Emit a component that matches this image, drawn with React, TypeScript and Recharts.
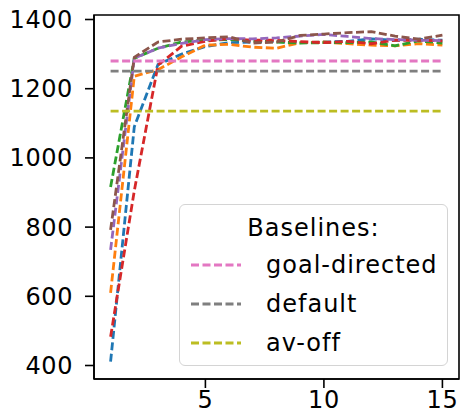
import { LineChart, Line, XAxis, YAxis, ReferenceArea } from 'recharts';

// training steps on the x axis
const steps = [1, 2, 3, 4, 5, 6, 7, 8, 9, 10, 11, 12, 13, 14, 15];

// one run per colour
const runBlue = [411, 1090, 1270, 1300, 1322, 1333, 1335, 1336, 1333, 1335, 1337, 1344, 1340, 1343, 1340];
const runOrange = [610, 1236, 1255, 1292, 1326, 1328, 1320, 1317, 1333, 1335, 1330, 1326, 1324, 1330, 1326];
const runGreen = [916, 1288, 1317, 1335, 1340, 1342, 1338, 1335, 1332, 1333, 1333, 1335, 1324, 1338, 1332];
const runRed = [483, 905, 1268, 1323, 1337, 1345, 1340, 1340, 1336, 1333, 1337, 1330, 1340, 1340, 1338];
const runPurple = [734, 1288, 1317, 1331, 1342, 1345, 1344, 1347, 1352, 1357, 1351, 1345, 1342, 1340, 1339];
const runBrown = [792, 1291, 1335, 1343, 1347, 1350, 1332, 1335, 1354, 1358, 1362, 1365, 1352, 1343, 1355];

const runs = [runBlue, runOrange, runGreen, runRed, runPurple, runBrown];
const runColors = ['#1f77b4', '#ff7f0e', '#2ca02c', '#d62728', '#9467bd', '#8c564b'];

const baselineNames = ['goal-directed', 'default', 'av-off'];
const baselineValues = [1280, 1251, 1135];
const baselineColors = ['#e377c2', '#7f7f7f', '#bcbd22'];

const xTicks = [5, 10, 15];
const yTicks = [400, 600, 800, 1000, 1200, 1400];

const data = steps.map((step, i) => {
  const row: Record<string, number> = { step };
  runs.forEach((r, k) => (row[`run${k}`] = r[i]));
  baselineValues.forEach((v, k) => (row[`base${k}`] = v));
  return row;
});

const FONT = '"DejaVu Sans", sans-serif';
const DASH = '8 3.5';
const LW = 2.8;

function BaselineLegend() {
  return (
    <div
      style={{
        position: 'absolute',
        left: 179,
        top: 204,
        width: 269,
        height: 162,
        boxSizing: 'border-box',
        border: '1.5px solid #d4d4d4',
        borderRadius: 6,
        background: 'rgba(255,255,255,0.8)',
        fontFamily: FONT,
        fontSize: 24,
        letterSpacing: 1,
        color: '#000',
      }}
    >
      <div style={{ position: 'absolute', top: 8, left: 0, width: '100%', textAlign: 'center', lineHeight: '30px' }}>
        Baselines:
      </div>
      {baselineNames.map((name, i) => (
        <div key={name} style={{ position: 'absolute', top: 45 + i * 39, left: 10, height: 30, display: 'flex', alignItems: 'center' }}>
          <svg width={52} height={10}>
            <line x1={1} y1={5} x2={51} y2={5} stroke={baselineColors[i]} strokeWidth={LW} strokeDasharray={DASH} />
          </svg>
          <span style={{ marginLeft: 24, lineHeight: '30px' }}>{name}</span>
        </div>
      ))}
    </div>
  );
}

export default function App() {
  const tickStyle = { fill: '#000', fontSize: 24, fontFamily: FONT, letterSpacing: 0.6 };
  return (
    <div style={{ position: 'absolute', left: 0, top: 0, width: 460, height: 419 }}>
      <LineChart width={460} height={419} data={data} margin={{ top: 15, right: 1, bottom: 10, left: 0 }}>
        <XAxis
          dataKey="step"
          type="number"
          domain={[0.3, 15.7]}
          ticks={xTicks}
          allowDataOverflow
          height={30}
          tickSize={9}
          tickMargin={3}
          stroke="#000"
          strokeWidth={1.6}
          tick={tickStyle}
        />
        <YAxis
          type="number"
          domain={[361, 1413]}
          ticks={yTicks}
          allowDataOverflow
          width={94}
          tickSize={9}
          tickMargin={12}
          stroke="#000"
          strokeWidth={1.6}
          tick={tickStyle}
        />
        <ReferenceArea x1={0.3} x2={15.7} y1={361} y2={1413} fill="none" stroke="#000" strokeWidth={1.6} />
        {runs.map((_, k) => (
          <Line
            key={`run${k}`}
            dataKey={`run${k}`}
            type="linear"
            stroke={runColors[k]}
            strokeWidth={LW}
            strokeDasharray={DASH}
            dot={false}
            isAnimationActive={false}
          />
        ))}
        {baselineNames.map((name, k) => (
          <Line
            key={name}
            name={name}
            dataKey={`base${k}`}
            type="linear"
            stroke={baselineColors[k]}
            strokeWidth={LW}
            strokeDasharray={DASH}
            dot={false}
            isAnimationActive={false}
          />
        ))}
      </LineChart>
      <BaselineLegend />
    </div>
  );
}
